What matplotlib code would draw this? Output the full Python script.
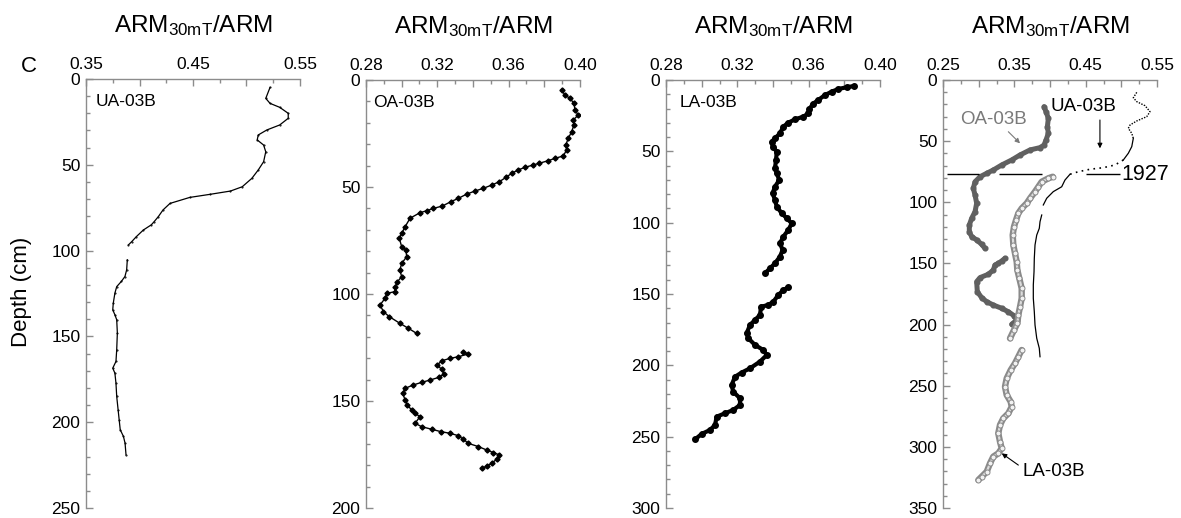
import numpy as np
import matplotlib
matplotlib.use("Agg")
import matplotlib.pyplot as plt
from matplotlib.ticker import MultipleLocator

plt.rcParams['font.family'] = ['Liberation Sans', 'DejaVu Sans']
plt.rcParams['mathtext.fontset'] = 'custom'
plt.rcParams['mathtext.rm'] = 'Liberation Sans'
plt.rcParams['mathtext.it'] = 'Liberation Sans:italic'

nan = np.nan

# ---------------- UA-03B (core depth) ----------------
ua_depth = [4.9, 11.3, 14.2, 16.5, 20.0, 22.9, 26.8, 29.7, 32.6, 35.5, 38.5, 42.4,
            48.2, 53.0, 57.9, 62.8, 65.3, 67.2, 69.0, 72.5, 76.3, 80.2, 83.2, 85.0,
            88.0, 91.9, 94.8, 96.7, nan,
            105.4, 111.2, 115.1, 118.0, 121.0, 124.8, 130.6, 134.5, 137.4, 140.3,
            148.0, 157.8, 164.6, 168.5, 171.4, 177.2, 185.0, 192.7, 198.6, 204.4,
            208.3, 212.2, 219.0]
ua_arm = [0.522, 0.518, 0.522, 0.531, 0.539, 0.539, 0.531, 0.519, 0.511, 0.510, 0.516, 0.518,
          0.516, 0.511, 0.505, 0.496, 0.485, 0.466, 0.447, 0.4285, 0.422, 0.4176, 0.4136, 0.411,
          0.4036, 0.397, 0.3927, 0.3896, nan,
          0.3886, 0.388, 0.3864, 0.383, 0.3787, 0.377, 0.3755, 0.375, 0.377, 0.3787,
          0.3793, 0.3787, 0.378, 0.375, 0.377, 0.378, 0.3787, 0.380, 0.381, 0.382,
          0.385, 0.3865, 0.3874]

# ---------------- OA-03B (core depth) ----------------
oa_depth = [4.7, 7.0, 8.6, 10.9, 14.0, 16.4, 18.7, 21.0, 24.2, 27.3, 30.4, 32.7, 35.5,
            36.6, 37.7, 38.9, 39.7, 40.8, 42.0, 43.6, 45.5, 47.5, 49.1, 50.6, 51.9, 53.3,
            55.3, 56.9, 58.9, 60.0, 61.1, 62.0, 64.6, 68.6, 71.7, 74.0, 77.9, 79.4, 82.6,
            85.7, 88.8, 91.9, 94.3, 96.6, 98.9, 99.7, 102.0, 105.1, 108.3, 110.6, 113.7,
            116.0, 118.4, nan,
            127.0, 128.0, 129.3, 130.1, 131.2, 133.2, 135.2, 137.4, 138.9, 140.2, 141.3,
            142.5, 144.1, 146.4, 149.5, 151.9, 154.2, 155.8, 157.3, 160.4, 162.0, 163.2,
            164.3, 165.1, 166.2, 167.9, 169.8, 171.3, 172.9, 174.1, 175.2, 177.2, 179.1,
            180.4, 181.5]
oa_arm = [0.3897, 0.3916, 0.3944, 0.3966, 0.3972, 0.399, 0.3962, 0.3966, 0.3953, 0.3934, 0.392,
          0.3925, 0.3906, 0.386, 0.3822, 0.3772, 0.3738, 0.3692, 0.3654, 0.3617, 0.3585,
          0.3548, 0.3505, 0.3458, 0.3411, 0.3365, 0.3318, 0.3275, 0.3228, 0.3178, 0.314,
          0.3103, 0.3047, 0.3019, 0.300, 0.2987, 0.300, 0.3024, 0.3028, 0.300, 0.299, 0.300,
          0.2976, 0.2963, 0.2963, 0.2916, 0.2907, 0.2879, 0.2898, 0.2931, 0.299, 0.3037,
          0.3084, nan,
          0.3346, 0.3374, 0.3318, 0.3271, 0.3224, 0.320, 0.3224, 0.3237, 0.3211, 0.3159,
          0.3112, 0.3065, 0.3019, 0.3006, 0.3019, 0.3032, 0.3056, 0.3075, 0.3103, 0.3075,
          0.3112, 0.3168, 0.3219, 0.3271, 0.3318, 0.3346, 0.3374, 0.343, 0.3477, 0.3514,
          0.3548, 0.3533, 0.3505, 0.3477, 0.3449]

# ---------------- LA-03B (core depth) ----------------
la_depth = [4.2, 5.1, 6.3, 8.2, 10.5, 14.0, 16.8, 20.5, 23.4, 25.7, 27.6, 29.9, 32.7, 37.4,
            40.9, 43.2, 46.7, 50.2, 56.0, 61.9, 65.4, 70.1, 74.8, 79.4, 84.1, 88.8, 93.4,
            96.9, 100.5, 105.1, 109.8, 114.5, 119.1, 123.8, 128.5, 132.0, 135.5, nan,
            145.3, 147.2, 150.7, 155.4, 157.7, 158.9, 164.7, 168.2, 171.7, 177.6, 181.0,
            185.7, 189.3, 192.8, 197.4, 202.1, 205.1, 208.0, 213.8, 218.5, 223.1, 227.8,
            231.3, 233.6, 236.0, 241.8, 245.3, 248.1, 251.9]
la_arm = [0.3854, 0.3813, 0.3766, 0.3729, 0.3692, 0.3654, 0.3623, 0.3604, 0.3598, 0.357,
          0.3523, 0.3486, 0.3458, 0.3439, 0.3411, 0.3393, 0.3398, 0.3421, 0.3417, 0.3411,
          0.3421, 0.3435, 0.3411, 0.3398, 0.3411, 0.3421, 0.3449, 0.3477, 0.3505, 0.3486,
          0.3458, 0.3439, 0.3454, 0.3439, 0.3411, 0.3383, 0.3355, nan,
          0.3486, 0.3458, 0.343, 0.3402, 0.3374, 0.3333, 0.3327, 0.3299, 0.3271, 0.3252,
          0.3261, 0.3299, 0.3346, 0.3365, 0.3327, 0.3271, 0.3224, 0.3187, 0.3168, 0.3177,
          0.3215, 0.3215, 0.3177, 0.3131, 0.3084, 0.3075, 0.3047, 0.300, 0.2963]

# ---------------- correlated (composite) depth scale ----------------
ua_comp_depth = [10.1, 14.5, 17.7, 21.0, 25.9, 30.0, 33.5, 36.8, 39.5, 43.6, 47.7, 54.5,
                 59.9, 65.4, 69.5, 71.7, 73.0, 75.0, 77.1, 81.8, 87.3, 91.3, 96.7, 102.2, nan,
                 110.4, 115.9, 121.3, 126.8, 134.9, 145.8, 156.8, 167.6, 178.5, 189.5,
                 200.4, 211.2, 219.4, 226.3]
ua_comp_arm = [0.5216, 0.5168, 0.5216, 0.5332, 0.5402, 0.5356, 0.5216, 0.5122, 0.5098,
               0.5146, 0.5168, 0.5146, 0.5098, 0.5028, 0.4911, 0.4747, 0.4561, 0.4397,
               0.428, 0.421, 0.4164, 0.4046, 0.3954, 0.3906, nan,
               0.3884, 0.386, 0.385, 0.3814, 0.379, 0.378, 0.3776, 0.3766, 0.3766, 0.378,
               0.379, 0.3814, 0.385, 0.386]

oa_comp_depth = [21.8, 25.9, 31.3, 38.2, 43.6, 49.1, 53.2, 55.3, 57.2, 61.3, 65.4, 69.5,
                 73.6, 76.3, 79.1, 83.2, 88.6, 94.0, 100.8, 107.7, 113.1, 118.6, 124.1,
                 128.1, 130.8, 134.4, 137.7, nan,
                 145.8, 148.0, 149.9, 151.3, 155.4, 158.9, 161.6, 164.9, 173.1, 178.0,
                 181.3, 184.0, 186.7, 189.5, 192.7, 196.3, 199.8]
oa_comp_arm = [0.3916, 0.3944, 0.3977, 0.3963, 0.3977, 0.3944, 0.3916, 0.386, 0.372, 0.358,
               0.3463, 0.3323, 0.3205, 0.3113, 0.3019, 0.2949, 0.2925, 0.2949, 0.2972,
               0.2949, 0.2902, 0.2869, 0.2869, 0.2902, 0.2972, 0.3042, 0.3089, nan,
               0.3369, 0.3323, 0.3275, 0.3229, 0.3205, 0.3135, 0.3019, 0.2972, 0.2981,
               0.3042, 0.3113, 0.3205, 0.3323, 0.3415, 0.3495, 0.3533, 0.3463]

la_comp_depth = [79.1, 80.4, 83.2, 87.3, 91.3, 96.8, 100.8, 105.0, 109.0, 114.5, 120.0,
                 126.8, 134.9, 141.7, 148.6, 155.4, 162.2, 170.4, 178.5, 185.4, 192.2,
                 199.0, 204.5, 211.3, nan,
                 220.8, 226.3, 231.7, 237.2, 244.0, 250.8, 257.6, 263.1, 267.2, 272.6,
                 276.7, 282.1, 288.9, 295.8, 301.2, 305.3, 308.0, 313.5, 320.3, 324.4, 327.1]
la_comp_arm = [0.4038, 0.3977, 0.3884, 0.3837, 0.379, 0.372, 0.3674, 0.3603, 0.3556, 0.3524,
               0.3495, 0.3477, 0.3486, 0.3509, 0.3533, 0.3542, 0.357, 0.3603, 0.3603, 0.358,
               0.3556, 0.3542, 0.3495, 0.3439, nan,
               0.3603, 0.3556, 0.3509, 0.3449, 0.3393, 0.3369, 0.3393, 0.3449, 0.3463,
               0.3416, 0.3345, 0.3299, 0.3275, 0.3299, 0.3323, 0.3275, 0.3205, 0.3159,
               0.3113, 0.3042, 0.2995]

year_1927_depth = 77.1

# ---------------- figure ----------------
W, H = 1181, 518
fig = plt.figure(figsize=(W / 100, H / 100), dpi=100)
GREY = '#8c8c8c'


def add_panel(left, top, right, bottom):
    return fig.add_axes([left / W, 1 - bottom / H, (right - left) / W, (bottom - top) / H])


def style(ax, xlim, xmajor, xlabels, xminor, ymax):
    ax.set_xlim(*xlim)
    ax.set_ylim(ymax, 0)
    for s in ('right', 'bottom'):
        ax.spines[s].set_visible(False)
    for s in ('left', 'top'):
        ax.spines[s].set_color(GREY)
        ax.spines[s].set_linewidth(1.0)
    ax.xaxis.tick_top()
    ax.set_xticks(xmajor, xlabels)
    ax.xaxis.set_minor_locator(MultipleLocator(xminor))
    ax.yaxis.set_major_locator(MultipleLocator(50))
    ax.yaxis.set_minor_locator(MultipleLocator(10))
    ax.tick_params(which='both', direction='in', color=GREY, width=1.0)
    ax.tick_params(which='major', length=5)
    ax.tick_params(which='minor', length=3)
    ax.tick_params(axis='x', pad=5, labelsize=12.5)
    ax.tick_params(axis='y', pad=4, labelsize=12.5)
    ax.text(0.5, 1.11, r'ARM$_{\mathrm{30mT}}$/ARM', transform=ax.transAxes,
            ha='center', va='baseline', fontsize=17.5)


ax1 = add_panel(86, 79, 300, 508)
ax2 = add_panel(366, 80, 580, 508)
ax3 = add_panel(666, 80, 880, 508)
ax4 = add_panel(943, 80, 1157, 508)

style(ax1, (0.35, 0.55), [0.35, 0.40, 0.45, 0.50, 0.55],
      ['0.35', '', '0.45', '', '0.55'], 0.025, 250)
style(ax2, (0.28, 0.40), [0.28, 0.30, 0.32, 0.34, 0.36, 0.38, 0.40],
      ['0.28', '', '0.32', '', '0.36', '', '0.40'], 0.01, 200)
style(ax3, (0.28, 0.40), [0.28, 0.30, 0.32, 0.34, 0.36, 0.38, 0.40],
      ['0.28', '', '0.32', '', '0.36', '', '0.40'], 0.01, 300)
style(ax4, (0.25, 0.55), [0.25, 0.30, 0.35, 0.40, 0.45, 0.50, 0.55],
      ['0.25', '', '0.35', '', '0.45', '', '0.55'], 0.025, 350)

# individual cores
ax1.plot(ua_arm, ua_depth, color='black', lw=0.9, marker='.', ms=1.0)
ax2.plot(oa_arm, oa_depth, color='black', lw=1.0, marker='D', ms=2.6)
ax3.plot(la_arm, la_depth, color='black', lw=3.0, marker='o', ms=4.0,
         solid_capstyle='round')

for ax, name, xf in ((ax1, 'UA-03B', 0.047), (ax2, 'OA-03B', 0.034), (ax3, 'LA-03B', 0.065)):
    ax.text(xf, 0.948, name, transform=ax.transAxes, ha='left', va='center', fontsize=12.5)

# correlated cores
ax4.plot(oa_comp_arm, oa_comp_depth, color='#606060', lw=3.6, marker='o', ms=3.4,
         solid_capstyle='round', zorder=2)
ax4.plot(la_comp_arm, la_comp_depth, color='#8a8a8a', lw=4.6, solid_capstyle='round', zorder=3)
ax4.plot(la_comp_arm, la_comp_depth, color='#dcdcdc', lw=1.6, solid_capstyle='round', zorder=3)
ax4.plot(la_comp_arm, la_comp_depth, ls='none', marker='o', ms=3.6, mfc='#f2f2f2',
         mec='#8a8a8a', mew=0.7, zorder=4)

ua_d = np.array(ua_comp_depth)
ua_v = np.array(ua_comp_arm)
top_part = ua_d <= 47.7
steep = (ua_d >= 65.4) & (ua_d <= 77.1)
solid = ~(top_part | steep) | np.isin(ua_d, [47.7, 65.4, 77.1])
ax4.plot(np.where(solid, ua_v, nan), ua_d, color='black', lw=0.9, zorder=5)
ax4.plot(np.where(top_part, ua_v, nan), ua_d, color='black', lw=1.0,
         ls=(0, (1, 1)), zorder=5)
ax4.plot(np.where(steep, ua_v, nan), ua_d, color='black', lw=1.2,
         ls=(0, (1, 2.6)), zorder=5)

# 1927 horizon
ax4.hlines([year_1927_depth] * 3, [0.2552, 0.329, 0.450], [0.3009, 0.3884, 0.4982],
           color='black', lw=1.0, zorder=6)
ax4.text(0.5005, year_1927_depth, '1927', ha='left', va='center', fontsize=15.5,
         clip_on=False)

arrow = dict(arrowstyle='-|>', lw=0.8, mutation_scale=7, shrinkA=0, shrinkB=0)
ax4.text(0.3205, 32.7, 'OA-03B', color='#7a7a7a', ha='center', va='center', fontsize=13.5)
ax4.annotate('', xy=(0.358, 51.8), xytext=(0.3416, 42.3),
             arrowprops=dict(arrow, color='#7a7a7a'))
ax4.text(0.4467, 21.8, 'UA-03B', color='black', ha='center', va='center', fontsize=13.5)
ax4.annotate('', xy=(0.470, 55.9), xytext=(0.470, 32.7),
             arrowprops=dict(arrow, color='black'))
ax4.text(0.4047, 320.3, 'LA-03B', color='black', ha='center', va='center', fontsize=13.5)
ax4.annotate('', xy=(0.3323, 305.3), xytext=(0.3556, 314.9),
             arrowprops=dict(arrow, color='black'))

fig.text(22 / W, 1 - 292 / H, 'Depth (cm)', rotation=90, ha='center', va='center',
         fontsize=16)
fig.text(29 / W, 1 - 67 / H, 'C', ha='center', va='center', fontsize=16)

fig.savefig('out.png', dpi=100)
